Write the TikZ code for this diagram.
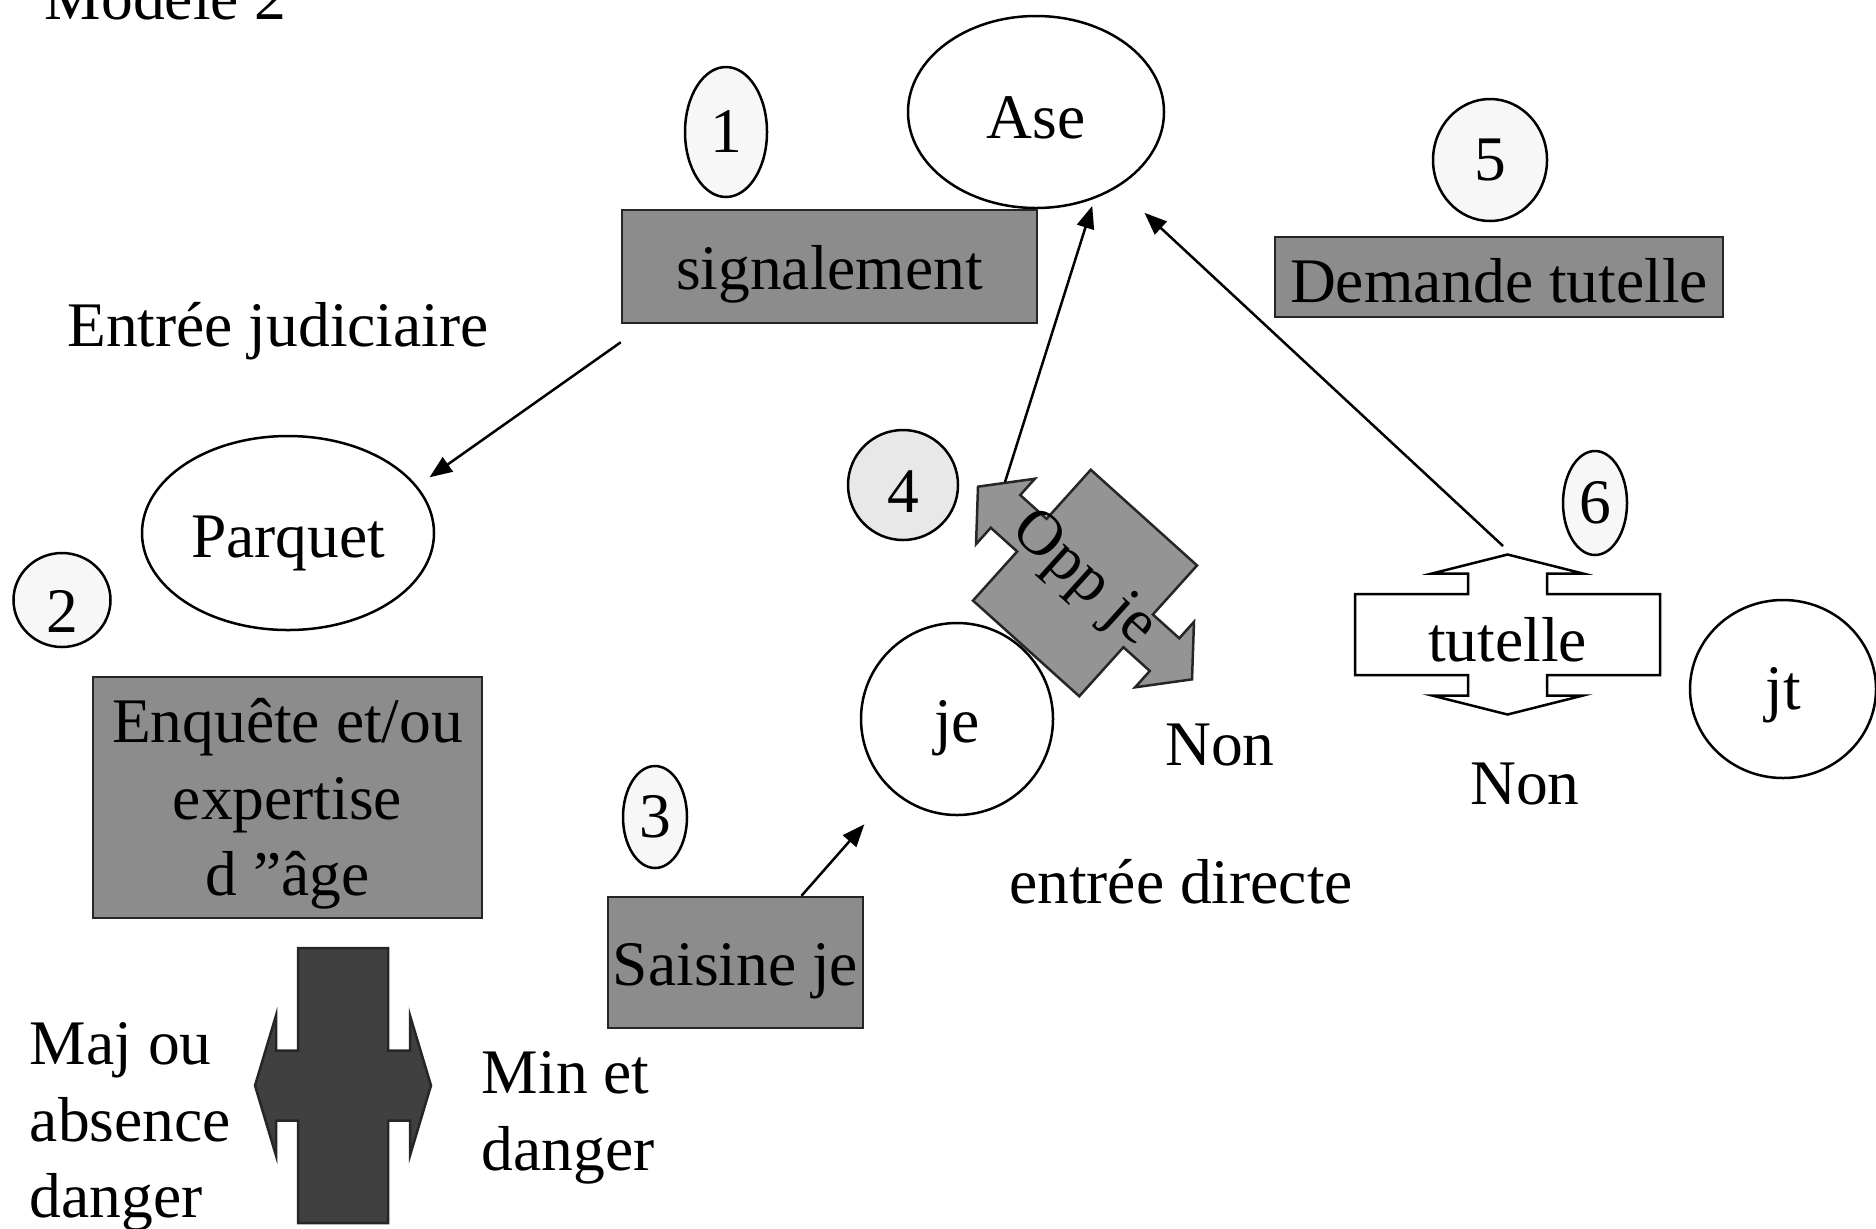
\documentclass[tikz,border=0pt]{standalone}
\usepackage{fontspec}
\setmainfont{Liberation Serif}
\usetikzlibrary{shapes.geometric,arrows.meta,calc}

\tikzset{every picture/.style={line width=0.5pt}}
\tikzset{
  bulle/.style={draw,ellipse,inner sep=0pt},
  numero/.style={draw,ellipse,inner sep=0pt,fill=gray!6},
  grisbox/.style={draw=black!85,fill=black!45,inner sep=0pt},
  fleche/.style={-{Triangle[length=4.5pt,width=3.5pt]}},
  haut/.style={text height=#1,text depth=0pt},
}
\newcommand{\txt}{\fontsize{12.7pt}{15.3pt}\selectfont}
% rectangle crossed by a double arrow, along local x
\newcommand{\calloutfleche}[7]{%
  \draw[#1] (#2,-#3) -- (#2,-#4) -- (#5,-#4) -- (#5,-#6) -- (#7,0) -- (#5,#6) -- (#5,#4) -- (#2,#4)
    -- (#2,#3) -- (-#2,#3) -- (-#2,#4) -- (-#5,#4) -- (-#5,#6) -- (-#7,0) -- (-#5,-#6) -- (-#5,-#4)
    -- (-#2,-#4) -- (-#2,-#3) -- cycle;}

\begin{document}
\begin{tikzpicture}[x=0.2pt,y=0.2pt,yscale=-1,xscale=1,font=\txt]
	\useasboundingbox (0,0) rectangle (1876,1228);

	% Text Node
	\node (titre) [anchor=base west] at (27,19) {Modèle 2};
	% Text Node
	\node (judic) at (278,331) {Entrée judiciaire};

	%Shape: Ellipse
	\node (ase) [bulle,haut=10.4pt,minimum width=51.2pt,minimum height=38.4pt] at (1036,112) {Ase};
	\node (parquet) [bulle,haut=9.9pt,minimum width=58.4pt,minimum height=38.8pt] at (288,533) {Parquet};
	\node (je) [bulle,haut=9.3pt,minimum width=38.4pt,minimum height=38.4pt] at (957,719) {je};
	\node (jt) [bulle,haut=8.3pt,minimum width=37.2pt,minimum height=35.6pt] at (1783,689) {jt};

	%Shape: Numbers
	\node (n1) [numero,minimum width=16.4pt,minimum height=26pt] at (726,132) {1};
	\node (n2) [numero,haut=13pt,minimum width=19.4pt,minimum height=18.8pt] at (62,600) {2};
	\node (n3) [numero,minimum width=12.8pt,minimum height=20.4pt] at (655,817) {3};
	\node (n4) [numero,haut=11pt,fill=gray!18,minimum width=22pt,minimum height=22pt] at (903,485) {4};
	\node (n5) [numero,minimum width=22.8pt,minimum height=24.4pt] at (1490,160) {5};
	\node (n6) [numero,minimum width=12.8pt,minimum height=20.8pt] at (1595,503) {6};

	%Shape: Rectangle
	\node (signal) [grisbox,haut=9.3pt,minimum width=83pt,minimum height=22.6pt] at (829.5,266.5) {signalement};
	\node (demande) [grisbox,haut=10.1pt,minimum width=89.6pt,minimum height=16pt] at (1499,277) {Demande tutelle};
	\node (enquete) [grisbox,align=center,minimum width=77.8pt,minimum height=48.2pt] at (287.5,797.5) {\rule{0pt}{11.5pt}Enquête et/ou\\expertise\\d "âge};
	\node (saisine) [grisbox,haut=9.3pt,minimum width=51pt,minimum height=26.2pt] at (735.5,962.5) {Saisine je};

	%Shape: Double arrows
	\calloutfleche{shift={(1085,583)},rotate=42,draw=black!85,fill=black!42}{71.5}{88}{22}{107}{44}{144}
	\node (opp) [rotate=-42] at (1083,580) {Opp je};
	\calloutfleche{shift={(1507.5,634.5)},rotate=90,fill=white}{40.5}{152.5}{39.5}{61}{75.5}{80}
	\node (tutelle) at (1507.5,640) {tutelle};
	\calloutfleche{shift={(343,1085.5)},draw=black!85,fill=black!75}{45}{137.5}{35}{67}{70}{88}

	% Text Node
	\node (maj) [align=left,anchor=west] at (12,1127) {Maj ou\\absence\\danger};
	\node (min) [align=left,anchor=west] at (464,1118) {Min et\\danger};
	\node (non1) at (1220,745) {Non};
	\node (non2) at (1525,784) {Non};
	\node (directe) at (1181,882) {entrée directe};

	\coordinate (oppbout) at (1005,482);
	\coordinate (tutbout) at (1503,546);
	% Connection
	\draw [fleche,shorten >=3pt] ($(signal.south west)+(0,18)$) -- (parquet.20);
	\draw [fleche,shorten >=1.5pt] (oppbout) -- (ase.-56);
	\draw [fleche,shorten >=7.4pt] (tutbout) -- (ase);
	\draw [fleche,shorten >=8.6pt] ($(saisine.north)+(66,0)$) -- (je);

\end{tikzpicture}
\end{document}
